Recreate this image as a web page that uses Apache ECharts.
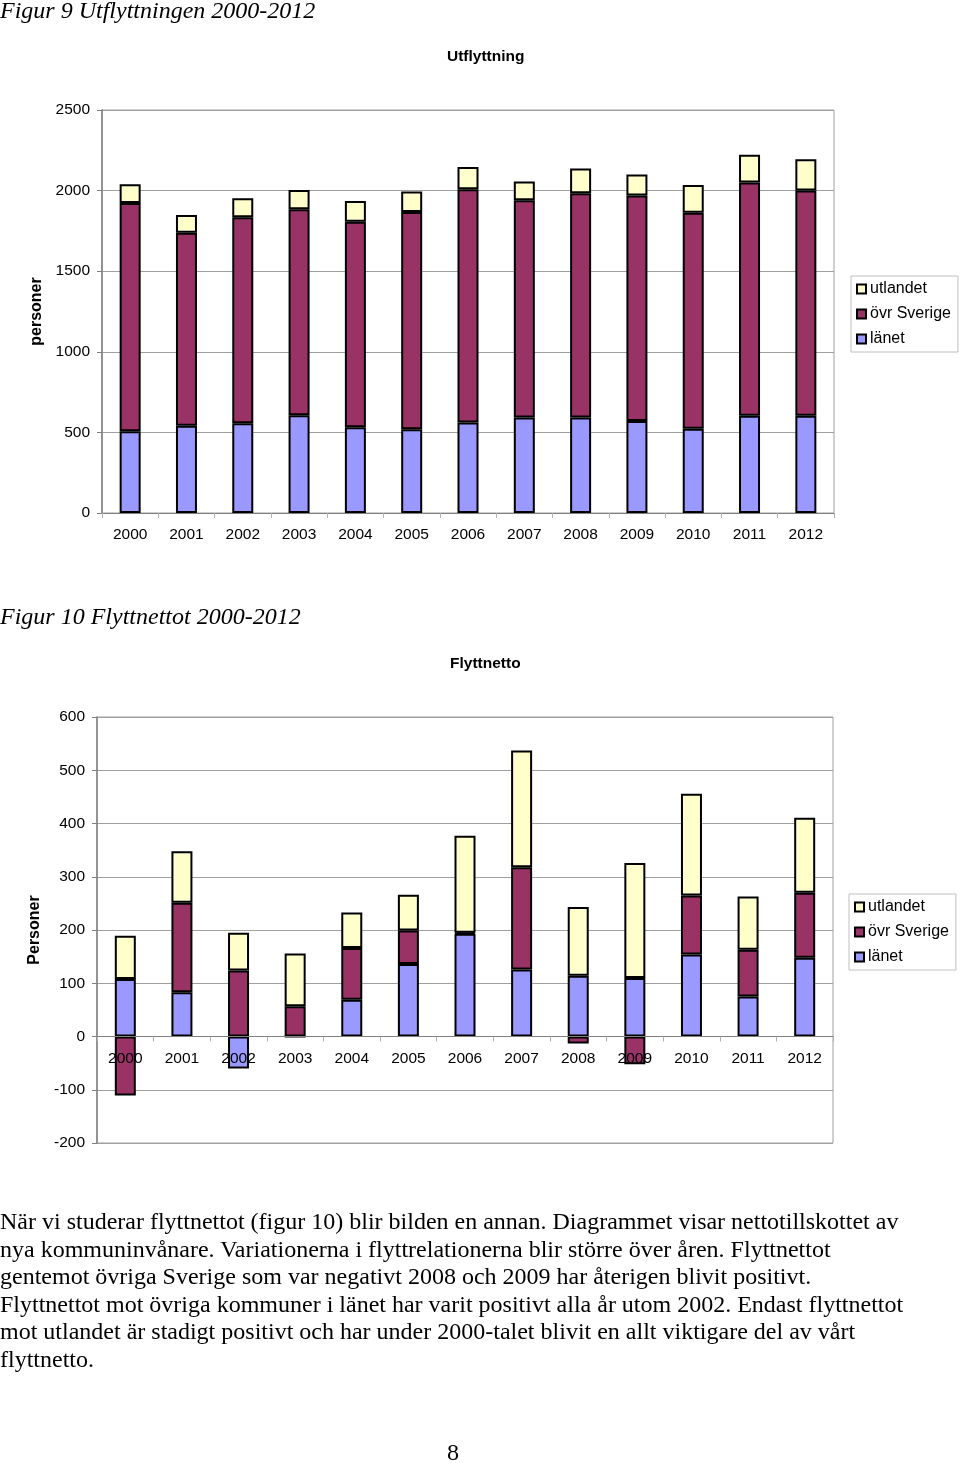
<!DOCTYPE html>
<html>
<head>
<meta charset="utf-8">
<script src="https://cdn.jsdelivr.net/npm/echarts@6/dist/echarts.min.js"></script>
<style>
  html, body { margin: 0; padding: 0; background: #fff; }
  #wrap { position: relative; width: 960px; height: 1463px; overflow: hidden; }
  #chart { position: absolute; left: 0; top: 0; width: 960px; height: 1463px; }
  .cap { position: absolute; left: 0; font-family: "Liberation Serif", "Times New Roman", serif; font-style: italic; font-size: 24px; line-height: 24px; white-space: nowrap; color: #000; }
  #para { position: absolute; left: 0; top: 1208px; font-family: "Liberation Serif", "Times New Roman", serif; font-size: 24px; line-height: 27.6px; white-space: nowrap; color: #000; }
  #page { position: absolute; left: 447px; top: 1440px; font-family: "Liberation Serif", "Times New Roman", serif; font-size: 24px; line-height: 24px; color: #000; }
</style>
</head>
<body>
<div id="wrap">
  <div id="chart"></div>
  <div class="cap" style="top:-2px;">Figur 9 Utflyttningen 2000-2012</div>
  <div class="cap" style="top:604px;">Figur 10 Flyttnettot 2000-2012</div>
  <div id="para">När vi studerar flyttnettot (figur 10) blir bilden en annan. Diagrammet visar nettotillskottet av<br>nya kommuninvånare. Variationerna i flyttrelationerna blir större över åren. Flyttnettot<br>gentemot övriga Sverige som var negativt 2008 och 2009 har återigen blivit positivt.<br>Flyttnettot mot övriga kommuner i länet har varit positivt alla år utom 2002. Endast flyttnettot<br>mot utlandet är stadigt positivt och har under 2000-talet blivit en allt viktigare del av vårt<br>flyttnetto.</div>
  <div id="page">8</div>
</div>
<script>
const years = ['2000','2001','2002','2003','2004','2005','2006','2007','2008','2009','2010','2011','2012'];

// Figur 9 – Utflyttning
const utLanet   = [507, 541, 557, 607, 532, 520, 562, 593, 593, 570, 522, 603, 603];
const utOvrSve  = [1416, 1198, 1277, 1277, 1275, 1348, 1447, 1347, 1391, 1399, 1341, 1447, 1397];
const utUtland  = [117, 110, 119, 120, 129, 126, 138, 116, 153, 131, 171, 172, 195];

// Figur 10 – Flyttnetto
const netLanet  = [108, 83, -60, 0, 69, 136, 193, 126, 114, 110, 154, 75, 148];
const netOvrSve = [-111, 168, 124, 57, 97, 63, 2, 192, -13, -52, 111, 88, 122];
const netUtland = [81, 97, 71, 99, 67, 67, 182, 219, 129, 216, 191, 100, 141];

const topTicks = [0, 500, 1000, 1500, 2000, 2500];
const botTicks = [-200, -100, 0, 100, 200, 300, 400, 500, 600];

const names = { lan: 'länet', ovr: 'övr Sverige', utl: 'utlandet' };
const colors = { lan: '#9999FF', ovr: '#993366', utl: '#FFFFCC' };

const SANS = '"Liberation Sans", Arial, Helvetica, sans-serif';
const gridCol = '#a0a0a0';
const axisCol = '#808080';

const grids = [
  { left: 102, top: 110, width: 732, height: 403 },
  { left: 97, top: 717, width: 736, height: 426 }
];
const tickSets = [topTicks, botTicks];

function barSeries(name, color, data, idx, stack) {
  return {
    type: 'bar', name: name, data: data, stack: stack,
    xAxisIndex: idx, yAxisIndex: idx,
    barWidth: 21, z: 2,
    itemStyle: { color: color, borderColor: '#000', borderWidth: 2 },
    emphasis: { disabled: true },
    animation: false
  };
}

// place the category axis on the value axis' zero line
function zeroOffset(idx) {
  const t = tickSets[idx];
  const lo = t[0], hi = t[t.length - 1];
  return -grids[idx].height * (0 - lo) / (hi - lo);
}

function xAxisDef(idx) {
  return {
    type: 'category', gridIndex: idx, data: years,
    position: 'bottom', offset: zeroOffset(idx), z: 10,
    axisLine: { show: true, onZero: false, lineStyle: { color: axisCol, width: 1 } },
    axisTick: { show: true, length: 5, lineStyle: { color: '#b0b0b0' } },
    axisLabel: { color: '#000', fontFamily: SANS, fontSize: 15.5, margin: 14 },
    splitLine: { show: false }
  };
}

function yAxisDef(idx, ticks, name, gap) {
  return {
    type: 'value', gridIndex: idx,
    min: ticks[0], max: ticks[ticks.length - 1], interval: ticks[1] - ticks[0],
    name: name, nameLocation: 'middle', nameGap: gap, nameRotate: 90,
    nameTextStyle: { color: '#000', fontFamily: SANS, fontSize: 16, fontWeight: 'bold' },
    axisLine: { show: true, lineStyle: { color: axisCol, width: 1.5 } },
    axisTick: { show: true, length: 5, lineStyle: { color: axisCol } },
    axisLabel: { color: '#000', fontFamily: SANS, fontSize: 15.5, margin: 12,
                 formatter: function (v) { return String(v); } },
    splitLine: { show: true, lineStyle: { color: gridCol, width: 1 } }
  };
}

function legendDef(left, top) {
  return {
    orient: 'vertical', left: left, top: top,
    data: [names.utl, names.ovr, names.lan],
    icon: 'rect', itemWidth: 9, itemHeight: 9, itemGap: 9,
    padding: [5, 7, 5, 5],
    borderColor: '#c0c0c0', borderWidth: 1,
    selectedMode: false,
    textStyle: { color: '#000', fontFamily: SANS, fontSize: 16, lineHeight: 16, padding: [0, 0, 0, -1] }
  };
}

const chart = echarts.init(document.getElementById('chart'), null, { renderer: 'canvas' });
chart.setOption({
  animation: false,
  title: [
    { text: 'Utflyttning', left: 442, top: 44,
      textStyle: { fontFamily: SANS, fontSize: 15.5, fontWeight: 'bold', color: '#000' } },
    { text: 'Flyttnetto', left: 445, top: 651,
      textStyle: { fontFamily: SANS, fontSize: 15.5, fontWeight: 'bold', color: '#000' } }
  ],
  legend: [legendDef(851, 276), legendDef(849, 894)],
  grid: grids.map(g => Object.assign({ show: true, borderColor: gridCol, borderWidth: 1, containLabel: false }, g)),
  xAxis: [xAxisDef(0), xAxisDef(1)],
  yAxis: [yAxisDef(0, topTicks, 'personer', 48), yAxisDef(1, botTicks, 'Personer', 45)],
  series: [
    barSeries(names.lan, colors.lan, utLanet, 0, 'ut'),
    barSeries(names.ovr, colors.ovr, utOvrSve, 0, 'ut'),
    barSeries(names.utl, colors.utl, utUtland, 0, 'ut'),
    barSeries(names.lan, colors.lan, netLanet, 1, 'net'),
    barSeries(names.ovr, colors.ovr, netOvrSve, 1, 'net'),
    barSeries(names.utl, colors.utl, netUtland, 1, 'net')
  ]
});
</script>
</body>
</html>
